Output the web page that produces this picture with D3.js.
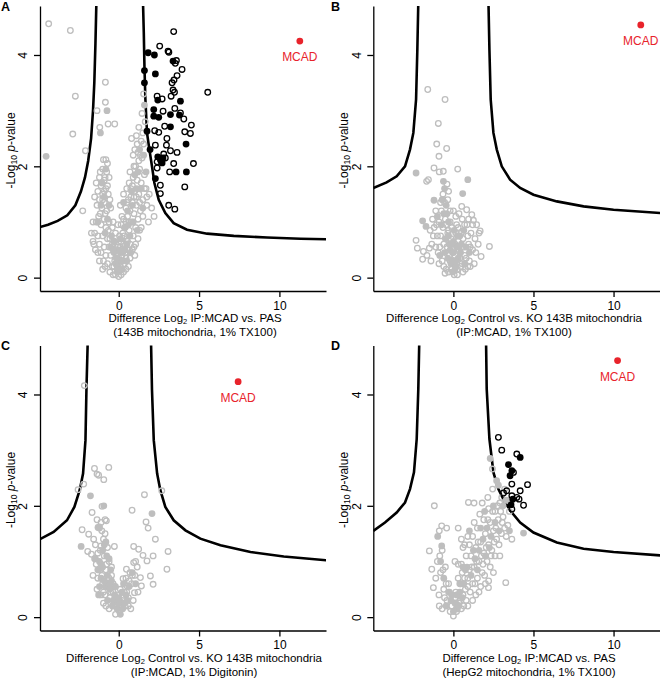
<!DOCTYPE html>
<html>
<head>
<meta charset="utf-8">
<script src="https://cdn.jsdelivr.net/npm/d3@7"></script>
<style>
body { margin: 0; background: #fff; }
text { font-family: 'Liberation Sans', Arial, sans-serif; }
</style>
</head>
<body>
<svg id="chart"></svg>
<script>
// tick values + axis text
const xTicks = [0, 5, 10];
const yTicks = [0, 2, 4];
const panelLetters = ['A', 'B', 'C', 'D'];
const xLabelMid = ['IP:MCAD vs. PAS', 'Control vs. KO 143B mitochondria', 'Control vs. KO 143B mitochondria', 'IP:MCAD vs. PAS'];
const xLabelSub = ['(143B mitochondria, 1% TX100)', '(IP:MCAD, 1% TX100)', '(IP:MCAD, 1% Digitonin)', '(HepG2 mitochondria, 1% TX100)'];

// panel A
const aCurveLeft = [[-1.39,4.95],[-1.45,4.2],[-1.52,3.5],[-1.6,3.0],[-1.72,2.5],[-1.9,2.1],[-2.1,1.8],[-2.35,1.55],[-2.7,1.3],[-3.2,1.12],[-3.8,1.02],[-4.4,0.95],[-4.9,0.91]];
const aCurveRight = [[1.51,4.95],[1.56,4.4],[1.6,3.8],[1.66,3.2],[1.76,2.6],[1.91,2.3],[2.07,2.0],[2.22,1.7],[2.49,1.4],[2.9,1.16],[3.42,0.98],[4.25,0.86],[5.5,0.79],[7.16,0.75],[9.23,0.72],[11.31,0.7],[12.93,0.69]];
const aMcad = [11.27, 4.25];
const aGrayOpen = [[-4.36,4.56],[-3.01,4.44],[-2.7,3.26],[-2.86,2.58],[-2.07,2.28],[-2.24,1.2],[-0.83,3.51],[-0.83,3.15],[-1.35,3.0],[-0.66,2.76],[-0.25,2.76],[-1.18,2.7],
  [-0.95,2.12],[-0.8,2.12],[-0.7,2.05],[-1.0,1.95],[-0.75,1.9],[-1.2,1.8],[-0.9,1.75],[-0.6,1.8],[-1.4,1.7],[-1.1,1.65],[-0.8,1.6],[-1.3,1.55],[-1.0,1.5],[-0.65,1.5],[-1.5,1.45],[-1.2,1.4],[-0.9,1.35],[-0.55,1.4],[-1.35,1.3],[-1.05,1.25],[-0.75,1.2],[-0.5,1.25],[-1.25,1.1],[-0.9,1.05],[-0.6,1.0],[-1.1,0.95],[-0.8,0.9],[-0.4,0.9],[-1.5,0.8],[-1.3,0.75],[-1.0,0.75],[-0.7,0.7],[-1.6,0.65],[-1.2,0.6],[-0.9,0.55],[-0.6,0.55],[-1.45,0.5],[-1.1,0.45],[-0.8,0.4],[-0.5,0.4],[-0.95,0.3],[-0.7,0.25],[-0.4,0.2],[-1.0,0.15],[-0.55,0.1],
  [-0.2,0.05],[0,0.02],[0.15,0.05],[0.3,0.1],[-0.1,0.15],[0.1,0.2],[0.35,0.25],[-0.25,0.3],[0,0.35],[0.2,0.4],[0.45,0.35],[-0.15,0.5],[0.1,0.55],[0.3,0.6],[0.55,0.5],[-0.3,0.65],[0.05,0.75],[0.25,0.8],[0.5,0.7],[0.7,0.6],[0.15,0.95],[0.4,0.9],[0.65,0.85],[0.9,0.75],[0.3,1.05],[0.55,1.1],[0.8,1.0],[1.05,0.9],[0.45,1.25],[0.7,1.2],[0.95,1.15],[1.2,1.05],[0.6,1.4],[0.85,1.35],[1.1,1.3],[1.35,1.2],[0.75,1.6],[1.0,1.55],[1.25,1.5],[1.5,1.4],[0.9,1.8],[1.15,1.75],[1.4,1.7],[0.7,1.9],[1.05,2.0],[1.3,1.95],[1.6,1.85],[0.9,2.2],[1.2,2.25],[1.45,2.15],[0.8,2.5],[1.1,2.55],[1.4,2.45],[1.25,2.7],[1.5,2.6],[1.45,2.95],[1.55,3.3],[1.65,2.8],[1.5,1.1],[1.75,1.3],[1.9,1.5],[1.7,1.6],[2.05,1.25],[1.85,1.0],[2.2,1.1],[0.95,0.55],[1.2,0.7],[1.4,0.9],[0.45,0.15],[0.7,0.35],
  [-0.3,0.2],[-0.1,0.35],[0.05,0.12],[0.25,0.3],[0.4,0.45],[0.15,0.65],[-0.05,0.55],[0.35,0.75],[0.55,0.65],[0.2,1.1],[0.45,1.0],[0.65,1.0],[0.5,1.35],[0.75,1.45],[0.95,1.45],[0.65,1.7],[0.85,1.65],[1.1,1.45],[1.3,1.35],[1.6,1.6],[1.75,1.45],[1.0,2.3],[1.15,2.4],[0.95,2.0],[1.25,2.1],[1.35,2.2],[1.55,2.4],[-0.4,0.6],[-0.2,0.8],[-0.35,1.0],[-0.55,0.7],[-0.65,0.85],[-0.85,1.15],[-1.15,1.15],[-1.4,1.0],[-1.0,1.4],[-0.7,1.65],[-0.9,1.55],[-1.15,1.9],[-0.85,1.8],[-1.6,1.0],[-1.7,0.8],[-1.55,0.6],[-1.3,0.45],[-1.2,0.3],[-0.85,0.2],[-0.35,0.05],[0.6,0.2],[0.85,0.5],[1.05,0.6],[1.3,0.85],[1.0,0.4],[-0.05,0.95],[0.1,1.3],[0.3,1.5],[0.5,1.6]];
const aGrayFill = [[-4.52,2.18],[-0.73,3.0],[-1.14,2.6],[-0.8,1.95],[-1.05,1.7],[-0.6,1.3],[-1.3,1.0],[-0.85,0.8],[-0.3,0.45],[0.05,0.3],[-0.1,0.1],[0.2,0.15],[0.4,0.5],[0.6,0.95],[0.85,1.3],[1.1,1.6],[1.0,1.85],[1.3,2.3],[1.55,2.2],[1.7,1.9],[1.6,3.1],[0.3,1.35],[0.5,0.3],[-0.45,0.75],[1.5,1.25],[0.75,0.45],[-0.2,0.25],[0.1,0.45],
  [-0.5,0.55],[-0.25,0.65],[0.0,0.5],[0.25,0.45],[0.35,0.9],[0.55,1.2],[0.8,1.55],[0.7,0.75],[-0.05,0.2],[-0.7,1.05],[-1.1,1.3],[-0.9,1.45],[1.2,1.9],[1.4,1.6],[0.9,1.0],[1.15,0.85],
  [0.0,0.15],[0.15,0.3],[-0.15,0.35],[0.3,0.5],[0.1,0.7],[-0.35,0.5],[0.5,0.6]];
const aBlackOpen = [[3.42,4.42],[2.55,4.16],[3.07,4.07],[3.12,4.05],[3.59,3.9],[3.52,3.85],[3.94,3.74],[3.63,3.63],[3.44,3.55],[3.32,3.5],[5.54,3.33],[3.38,3.37],[3.47,3.33],[2.39,3.26],[2.7,3.21],[3.26,3.26],[2.76,2.99],[3.49,3.04],[3.84,2.96],[4.05,2.85],[2.86,2.72],[4.52,2.74],[2.24,2.64],[2.49,2.61],[4.11,2.62],[4.46,2.59],[2.28,2.38],[2.97,2.38],[3.22,2.28],[3.63,2.25],[2.8,2.22],[2.63,2.1],[2.39,2.08],[3.42,2.05],[4.65,2.05],[2.39,1.97],[3.17,1.9],[2.59,1.66],[4.11,1.63],[2.59,1.51],[3.11,1.3],[3.49,1.23],[2.9,2.15],[3.0,2.5]];
const aBlackFill = [[1.83,4.04],[2.22,4.0],[3.38,3.89],[1.6,3.72],[2.28,3.66],[1.6,3.5],[2.43,3.19],[3.84,3.17],[2.18,3.02],[2.18,2.9],[2.49,2.88],[3.22,2.93],[3.78,2.92],[3.22,2.71],[1.76,2.63],[4.19,2.4],[2.43,2.17],[2.6,2.12],[2.75,2.15],[2.7,2.06],[3.57,1.9],[4.21,1.9],[2.28,1.78],[1.95,2.3]];

// panel B
const bCurveLeft = [[-2.19,4.95],[-2.25,4.1],[-2.33,3.2],[-2.5,2.6],[-2.71,2.3],[-3.02,2.0],[-3.54,1.82],[-4.17,1.71],[-5.0,1.61]];
const bCurveRight = [[2.19,4.95],[2.25,4.1],[2.33,3.2],[2.5,2.6],[2.71,2.3],[3.02,2.0],[3.54,1.76],[4.17,1.61],[5.0,1.49],[6.46,1.37],[8.13,1.28],[10.0,1.22],[12.92,1.16]];
const bMcad = [11.7, 4.54];
const bGrayOpen = [[-1.6,3.38],[-0.52,3.2],[-0.94,2.77],[-1.04,2.4],[-0.42,2.32],[-0.9,2.18],[0.27,1.95],[-1.21,1.97],[-0.88,1.9],[-0.63,1.91],[-1.56,1.76],[-1.67,1.73],[-0.4,1.68],[-0.3,1.55],[-2.33,0.67],[-2.25,0.53],[-1.92,0.33],[-1.87,0.47],[-1.5,0.53],[2.25,0.56],[1.67,0.84],[1.25,1.03],[1.15,1.13],[0.52,1.28],[0.83,1.22],[1.73,0.38],[-0.52,0.08],[-1.2,0.9],[-1.35,0.6],[-1.0,0.75],[-1.1,1.2],[-0.8,1.35],[-0.65,1.5],[-0.5,1.05],[-0.85,0.55],[-0.7,0.3],[-0.35,0.8],[-0.25,0.4],[-0.1,0.15],[0.05,0.05],[0.2,0.25],[0.35,0.5],[0.45,0.2],[0.6,0.7],[0.7,0.4],[0.85,0.95],[0.95,0.6],[1.1,0.8],[1.2,0.5],[1.35,0.7],[1.45,0.95],[1.55,0.6],[1.0,0.3],[0.75,0.15],[0.3,0.9],[0.1,0.6],[-0.15,0.7],[-0.4,0.55],[-0.6,0.2],[-1.65,0.4],[-1.4,0.3],[1.3,0.25],[0.55,1.05],[0.15,1.1],[-0.2,1.2],[0.9,0.2],[0.25,0.05],[-0.3,0.1],
  [-0.2,0.3],[0.1,0.4],[-0.05,0.45],[0.25,0.15],[0.4,0.35],[0.55,0.25],[0.65,0.55],[0.5,0.8],[0.3,0.65],[0.15,0.8],[-0.1,0.9],[-0.3,0.85],[-0.45,0.95],[-0.6,0.6],[-0.8,0.75],[-0.95,0.45],[-1.1,0.55],[-1.25,0.75],[-0.9,1.0],[-1.05,0.95],[-0.75,1.2],[-0.55,1.35],[-0.35,1.4],[-0.2,1.0],[0.0,1.2],[0.35,1.15],[0.7,0.95],[0.9,0.75],[1.05,0.55],[1.2,0.95],[1.4,0.45],[1.6,0.8],[0.8,0.35],[0.6,0.1],[-0.45,0.15],[-0.9,0.25],[-1.3,1.05],[-1.45,0.85],[-0.65,0.9],[0.2,0.95],[0.95,1.05],[1.05,0.2]];
const bGrayFill = [[-2.33,1.88],[0.9,1.76],[-0.62,1.73],[0.58,1.51],[-1.21,1.39],[-1.92,1.02],[-1.71,0.92],[-0.55,1.6],[-0.7,1.4],[-0.45,1.3],[-0.6,1.15],[-0.3,1.0],[-0.75,0.95],[-0.5,0.7],[-0.2,0.5],[0.0,0.3],[0.1,0.15],[-0.15,0.25],[0.3,0.35],[0.5,0.6],[0.65,0.85],[0.4,0.75],[0.8,0.55],[1.0,0.45],[0.2,0.55],[-0.35,0.35],[-1.0,1.1],[0.05,0.85],
  [-0.05,0.1],[0.15,0.3],[-0.25,0.6],[-0.4,1.15],[0.45,0.45],[0.7,0.25],[-0.85,0.4],[-0.55,0.45],[0.25,0.75],[0.0,0.65],
  [0.0,0.45],[-0.1,0.6],[0.35,0.55],[-0.3,0.75],[0.15,0.2]];
const bBlackOpen = [];
const bBlackFill = [];

// panel C
const cCurveLeft = [[-1.93,4.95],[-2.01,4.08],[-2.07,3.18],[-2.22,2.58],[-2.43,2.28],[-2.76,1.98],[-3.22,1.74],[-4.05,1.53],[-4.9,1.4]];
const cCurveRight = [[2.01,4.95],[2.07,4.08],[2.18,3.18],[2.39,2.58],[2.59,2.28],[2.9,1.98],[3.42,1.74],[4.15,1.56],[5.08,1.41],[6.33,1.29],[8.2,1.17],[10.27,1.09],[12.93,1.02]];
const cMcad = [7.43, 4.23];
const cGrayOpen = [[-2.14,4.16],[-1.51,2.67],[-0.62,2.69],[-1.35,2.57],[-1.25,2.55],[-2.18,2.39],[-2.53,2.29],[-0.93,2.47],[1.6,2.2],[2.68,2.27],[-1.04,1.99],[-1.66,1.88],[0.83,1.92],[-0.77,1.73],[1.7,1.71],[1.83,1.6],[-2.28,1.57],[-1.87,1.49],[-1.56,1.4],[2.28,1.4],[3.07,1.18],[3.0,0.86],[-1.93,1.18],[-1.7,1.13],[-1.1,1.28],[-0.27,1.27],[0.93,1.27],[1.24,1.22],[1.51,1.11],[2.14,1.1],[1.76,1.01],[0.93,0.98],[0.48,0.86],[1.35,0.71],[1.97,0.74],[2.14,0.59],[1.41,0.56],[0.98,0.44],[0.27,0.69],[0.52,0.56],[-1.2,1.6],[-1.1,1.7],[-0.85,1.5],[-1.45,1.3],[-1.3,1.15],[-0.9,1.1],[-1.4,0.95],[-1.15,0.85],[-0.75,0.95],[-1.3,0.7],[-1.0,0.6],[-0.6,0.7],[-1.35,0.5],[-0.85,0.4],[-0.5,0.45],[-0.95,0.25],[-0.6,0.15],[-0.3,0.3],[-0.2,0.05],[0.05,0.1],[0.2,0.3],[0.4,0.2],[0.6,0.35],[0.8,0.6],[1.0,0.75],[1.15,0.9],[0.7,0.8],[0.35,0.45],[-0.45,0.9],[-0.35,0.6],[0.75,0.15],[1.2,0.45],[-1.6,0.75],[0.1,0.5],
  [-0.15,0.2],[0.05,0.3],[-0.35,0.45],[-0.55,0.35],[-0.75,0.55],[-0.95,0.45],[-1.05,0.75],[-1.25,0.85],[-0.8,0.85],[-0.6,1.0],[-0.45,0.75],[-0.25,0.55],[-0.1,0.4],[0.15,0.2],[0.3,0.35],[0.5,0.45],[0.65,0.65],[0.85,0.75],[1.05,1.0],[0.45,0.7],[-1.15,1.2],[-0.95,1.4],[-0.7,1.25],[-1.05,1.55],[-0.85,1.75],[-1.35,1.75],[-1.5,1.05],[-1.1,0.4],[-0.8,0.2],[0.9,0.3],[0.6,0.2]];
const cGrayFill = [[-1.76,2.18],[-0.93,2.0],[2.07,1.86],[-1.29,1.61],[-1.2,1.62],[-1.45,1.05],[-2.34,1.27],[-0.9,1.3],[-1.2,1.0],[-1.0,0.9],[-0.7,0.75],[-1.1,0.7],[-0.85,0.55],[-0.55,0.5],[-0.7,0.3],[-0.4,0.2],[-0.1,0.15],[0.1,0.05],[0.25,0.15],[-0.25,0.4],[0.45,0.4],[0.65,0.55],[0.3,0.6],[-0.6,1.05],[-1.0,1.2],[-0.8,1.35],[0.85,0.8],[1.05,0.6],[-1.25,0.4],
  [-0.35,0.3],[-0.6,0.6],[-0.9,0.65],[-1.2,0.55],[-1.1,0.95],[-0.75,1.1],[-0.5,0.85],[0.2,0.45],[0.55,0.3],[-0.05,0.25],[-1.3,0.85],
  [0.0,0.35],[-0.2,0.55],[0.1,0.25],[-0.45,0.65],[0.35,0.25]];
const cBlackOpen = [];
const cBlackFill = [];

// panel D
const dCurveLeft = [[-2.13,4.95],[-2.19,4.1],[-2.29,3.2],[-2.46,2.6],[-2.71,2.3],[-3.02,2.06],[-3.54,1.88],[-4.27,1.7],[-5.0,1.55]];
const dCurveRight = [[2.04,4.95],[2.08,4.1],[2.25,3.2],[2.5,2.6],[2.81,2.3],[3.23,2.06],[3.65,1.88],[4.17,1.7],[5.0,1.52],[6.46,1.34],[8.13,1.23],[10.0,1.17],[12.92,1.11]];
const dMcad = [10.25, 4.61];
const dGrayOpen = [[-1.19,2.0],[0.94,2.06],[1.29,2.05],[2.15,2.15],[-0.88,1.55],[-0.73,1.64],[-0.42,1.6],[-1.5,1.19],[-1.35,0.86],[-1.25,0.53],[-0.88,0.2],[2.44,2.66],[3.02,2.15],[3.65,1.4],[3.27,0.62],[2.19,0.53],
  [-1.0,1.0],[-0.8,0.8],[-1.1,0.7],[-0.6,0.5],[-0.9,0.4],[-0.4,0.3],[-0.7,0.15],[-0.2,0.1],[0.0,0.02],[0.2,0.1],[0.35,0.25],[0.5,0.15],[0.6,0.4],[0.8,0.3],[0.45,0.6],[0.7,0.7],[0.9,0.55],[1.0,0.85],[1.2,0.6],[1.1,1.1],[1.3,0.9],[1.4,1.25],[1.5,0.7],[1.6,1.0],[1.7,1.35],[1.8,0.8],[1.9,1.15],[2.0,1.5],[2.1,1.0],[2.2,1.3],[2.3,1.7],[2.4,1.2],[2.5,1.55],[2.6,1.9],[2.7,1.4],[2.8,1.75],[2.9,2.05],[3.0,1.5],[3.1,1.8],[3.3,1.45],[3.4,1.65],[2.45,2.3],[2.75,2.0],[2.2,1.95],[1.9,1.75],[1.5,1.6],[1.2,1.45],[0.8,1.1],[0.5,0.95],[0.3,0.7],[0.15,0.45],[-0.3,0.6],[-0.5,0.9],[0.3,1.6],[0.5,1.4],[1.0,1.3],[0.6,1.25],[2.0,0.6],[2.5,0.8],[1.6,0.45],[1.2,0.3],[2.9,1.1],[3.5,1.9],[2.6,1.1],[-0.7,1.2],[3.2,2.3],[0.1,1.0],[0.9,0.2],[1.7,0.55],[2.3,0.9],
  [0.1,0.35],[-0.1,0.2],[0.3,0.4],[0.45,0.3],[0.65,0.2],[0.75,0.5],[0.55,0.8],[0.9,0.7],[1.05,0.45],[1.15,0.9],[1.35,0.6],[1.45,1.0],[1.55,1.35],[1.75,1.1],[1.85,0.95],[2.05,1.25],[2.15,1.75],[2.35,1.1],[2.45,1.9],[2.55,1.35],[2.65,1.6],[2.85,1.3],[3.05,1.7],[3.2,1.6],[2.95,1.9],[-0.25,0.45],[-0.45,0.6],[-0.65,0.85],[-0.85,1.1],[-0.55,0.35],[0.3,0.95],[0.7,1.3],[0.9,1.45],[1.3,1.7],[1.65,1.85],[1.8,2.05],[0.2,0.15],[1.4,0.4],[1.95,0.75],[2.2,0.65]];
const dGrayFill = [[2.3,2.85],[2.81,2.37],[4.38,1.51],[-0.98,1.45],[-0.73,1.28],[-0.6,0.7],[-0.3,0.45],[0.1,0.25],[0.4,0.45],[0.65,0.6],[0.85,0.9],[1.1,0.75],[1.35,1.05],[1.6,1.2],[1.85,1.4],[2.1,1.6],[2.35,1.45],[2.6,1.7],[2.85,1.55],[2.5,2.0],[3.1,2.0],[1.5,0.85],[2.0,1.1],[0.25,0.15],[-0.15,0.3],[2.7,2.45],[3.3,2.1],[1.0,1.55],[3.5,1.55],[1.95,1.9],
  [0.0,0.1],[0.55,0.35],[0.75,0.85],[1.25,1.2],[1.7,1.6],[2.25,1.25],[-0.45,0.2],[-0.8,1.0],
  [0.2,0.4],[0.4,0.6],[0.6,0.9],[-0.1,0.4],[0.3,0.2]];
const dBlackOpen = [[2.81,3.23],[3.02,3.0],[3.96,2.93],[3.75,2.6],[3.65,2.39],[3.33,2.27],[3.96,2.15],[4.17,2.27],[4.63,2.38],[3.65,2.18],[4.38,2.01],[3.13,2.23],[3.65,1.94],[4.1,2.12]];
const dBlackFill = [[4.17,2.87],[3.44,2.74],[3.65,2.63],[3.54,2.54],[3.71,2.12],[3.6,2.02]];

const W = 660, H = 682;
const GRAY = '#bebebe', RED = '#e8232b';
const FS = 11.5;

const panels = [
    { ox: 0, oy: 0, left: 40, right: 326, xDom: [-4.9, 12.9], labelX: 195,
      curves: [aCurveLeft, aCurveRight], grayOpen: aGrayOpen, grayFill: aGrayFill, blackOpen: aBlackOpen, blackFill: aBlackFill, mcad: aMcad },
    { ox: 330, oy: 0, left: 373.3, right: 660, xDom: [-5, 12.9], labelX: 514,
      curves: [bCurveLeft, bCurveRight], grayOpen: bGrayOpen, grayFill: bGrayFill, blackOpen: bBlackOpen, blackFill: bBlackFill, mcad: bMcad },
    { ox: 0, oy: 339.5, left: 40, right: 326, xDom: [-4.9, 12.9], labelX: 194,
      curves: [cCurveLeft, cCurveRight], grayOpen: cGrayOpen, grayFill: cGrayFill, blackOpen: cBlackOpen, blackFill: cBlackFill, mcad: cMcad },
    { ox: 330, oy: 339.5, left: 373.3, right: 660, xDom: [-5, 12.9], labelX: 529,
      curves: [dCurveLeft, dCurveRight], grayOpen: dGrayOpen, grayFill: dGrayFill, blackOpen: dBlackOpen, blackFill: dBlackFill, mcad: dMcad }
];

const svg = d3.select('#chart').attr('width', W).attr('height', H);

panels.forEach((p, i) => {
    const top = p.oy + 6, bottom = p.oy + 291;
    const x = d3.scaleLinear().domain(p.xDom).range([p.left, p.right]);
    const y = d3.scaleLinear().domain([-0.24, 4.88]).range([bottom, top]);
    const g = svg.append('g');

    const clipId = 'clip' + i;
    svg.append('clipPath').attr('id', clipId)
        .append('rect')
        .attr('x', p.left).attr('y', top)
        .attr('width', p.right - p.left).attr('height', bottom - top);

    // axes
    const xAxis = g.append('g')
        .attr('transform', `translate(0,${bottom})`)
        .call(d3.axisBottom(x).tickValues(xTicks).tickFormat(d3.format('d')).tickSize(6).tickSizeOuter(0).tickPadding(4));
    const yAxis = g.append('g')
        .attr('transform', `translate(${p.left},0)`)
        .call(d3.axisLeft(y).tickValues(yTicks).tickFormat(d3.format('d')).tickSize(6).tickSizeOuter(0));
    [xAxis, yAxis].forEach(a => {
        a.select('.domain').attr('stroke', '#000').attr('stroke-width', 1.3);
        a.selectAll('.tick line').attr('stroke', '#000').attr('stroke-width', 1.3);
        a.selectAll('text').attr('fill', '#000').style('font-size', '12px').style('font-family', "'Liberation Sans', Arial, sans-serif");
    });
    yAxis.selectAll('.tick text')
        .attr('x', null).attr('dy', null)
        .attr('text-anchor', 'middle')
        .attr('transform', 'translate(-12.7,0) rotate(-90)');

    // threshold curves
    const line = d3.line().x(d => x(d[0])).y(d => y(d[1]));
    const plot = g.append('g').attr('clip-path', `url(#${clipId})`);
    plot.selectAll('path.curve')
        .data(p.curves)
        .enter()
        .append('path')
        .attr('class', 'curve')
        .attr('d', line)
        .attr('fill', 'none')
        .attr('stroke', '#000')
        .attr('stroke-width', 2.6);

    // points
    plot.selectAll('circle.go').data(p.grayOpen).enter().append('circle')
        .attr('class', 'go')
        .attr('cx', d => x(d[0])).attr('cy', d => y(d[1])).attr('r', 2.8)
        .attr('fill', 'none').attr('stroke', GRAY).attr('stroke-width', 1.3);
    plot.selectAll('circle.gf').data(p.grayFill).enter().append('circle')
        .attr('class', 'gf')
        .attr('cx', d => x(d[0])).attr('cy', d => y(d[1])).attr('r', 3.4)
        .attr('fill', GRAY);
    plot.selectAll('circle.bo').data(p.blackOpen).enter().append('circle')
        .attr('class', 'bo')
        .attr('cx', d => x(d[0])).attr('cy', d => y(d[1])).attr('r', 2.8)
        .attr('fill', 'none').attr('stroke', '#000').attr('stroke-width', 1.3);
    plot.selectAll('circle.bf').data(p.blackFill).enter().append('circle')
        .attr('class', 'bf')
        .attr('cx', d => x(d[0])).attr('cy', d => y(d[1])).attr('r', 3.4)
        .attr('fill', '#000');

    // MCAD
    g.append('circle')
        .attr('cx', x(p.mcad[0])).attr('cy', y(p.mcad[1])).attr('r', 3.4)
        .attr('fill', RED);
    g.append('text')
        .attr('x', x(p.mcad[0])).attr('y', y(p.mcad[1]) + 20)
        .attr('text-anchor', 'middle')
        .attr('fill', RED)
        .style('font-size', '12px')
        .text('MCAD');

    // x label, two lines
    const xl = g.append('text')
        .attr('text-anchor', 'middle')
        .attr('x', p.labelX).attr('y', bottom + 31.3)
        .style('font-size', FS + 'px');
    xl.append('tspan').text('Difference Log');
    xl.append('tspan').attr('dy', 2).style('font-size', '7.5px').text('2');
    xl.append('tspan').attr('dy', -2).text(' ' + xLabelMid[i]);
    g.append('text')
        .attr('text-anchor', 'middle')
        .attr('x', p.labelX).attr('y', bottom + 45.2)
        .style('font-size', FS + 'px')
        .text(xLabelSub[i]);

    // y label
    const yl = g.append('text')
        .attr('text-anchor', 'middle')
        .attr('transform', `translate(${p.left - 25.5},${(top + bottom) / 2 + 2}) rotate(-90)`)
        .style('font-size', '12px');
    yl.append('tspan').text('-Log');
    yl.append('tspan').attr('dy', 2.5).style('font-size', '8.5px').text('10');
    yl.append('tspan').attr('dy', -2.5).text(' ');
    yl.append('tspan').style('font-style', 'italic').text('p');
    yl.append('tspan').text('-value');

    // panel letter
    g.append('text')
        .attr('x', p.ox + 1).attr('y', p.oy + 10.5)
        .style('font-size', '12.5px')
        .style('font-weight', 'bold')
        .text(panelLetters[i]);
});
</script>
</body>
</html>
